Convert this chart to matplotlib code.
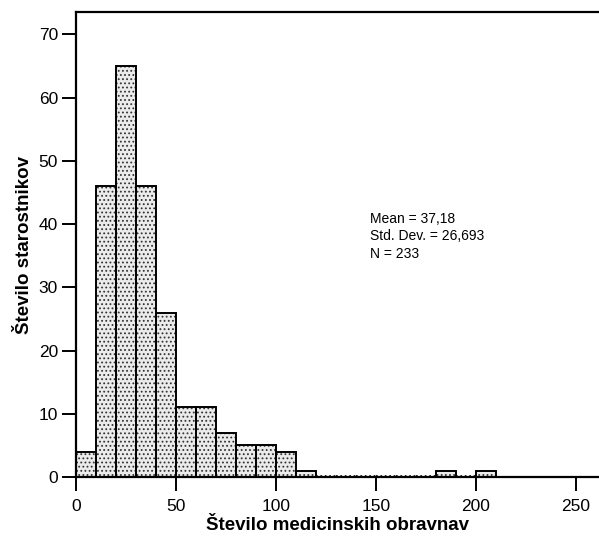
import numpy as np
import matplotlib
matplotlib.use('Agg')
import matplotlib.pyplot as plt

# Histogram of counts per bin (bin width 10, starting at 0)
bin_edges = np.arange(0, 220, 10)
counts = [4, 46, 65, 46, 26, 11, 11, 7, 5, 5, 4, 1, 0, 0, 0, 0, 0, 0, 1, 0, 1]
stats_lines = ['Mean = 37,18', 'Std. Dev. = 26,693', 'N = 233']
x_ticks = [0, 50, 100, 150, 200, 250]
y_ticks = [0, 10, 20, 30, 40, 50, 60, 70]
x_label = 'Število medicinskih obravnav'
y_label = 'Število starostnikov'

plt.rcParams['font.family'] = ['Liberation Sans', 'DejaVu Sans']
plt.rcParams['hatch.linewidth'] = 0.8

W, H = 599, 538
fig = plt.figure(figsize=(W / 100, H / 100), dpi=100)
ax = fig.add_axes([76 / W, 1 - 477 / H, 1 - 76 / W, (477 - 12) / H])

lefts = bin_edges[:-1]
heights = np.array(counts)
nonzero = heights > 0

# filled, dotted bars
ax.bar(lefts[nonzero], heights[nonzero], width=10, align='edge',
       color='#ebebeb', edgecolor='#333333', linewidth=0, hatch='....', zorder=2)
# outlines
ax.bar(lefts[nonzero], heights[nonzero], width=10, align='edge',
       fill=False, edgecolor='black', linewidth=1.4, zorder=3)

# empty bins drawn as dotted baseline
for left, h in zip(lefts, heights):
    if h == 0:
        ax.plot([left, left + 10], [0.15, 0.15], color='black', linestyle=':',
                linewidth=1.2, zorder=3)

ax.set_xlim(0, (599 - 76) / 2)
ax.set_ylim(0, (477 - 12) / 6.324)
ax.set_xticks(x_ticks)
ax.set_yticks(y_ticks)

for side in ['left', 'top', 'bottom']:
    ax.spines[side].set_linewidth(1.6)
ax.spines['right'].set_visible(False)
ax.tick_params(axis='both', direction='out', length=10, width=1.4,
               labelsize=12.5, pad=3)
ax.tick_params(axis='x', pad=6)

ax.set_xlabel(x_label, fontsize=13.5, fontweight='bold', labelpad=2)
ax.set_ylabel(y_label, fontsize=13.5, fontweight='bold', labelpad=4)

ax.text(0.562, 0.57, '\n'.join(stats_lines), transform=ax.transAxes,
        fontsize=10, va='top', ha='left', linespacing=1.3)

fig.savefig('out.png', dpi=100)
